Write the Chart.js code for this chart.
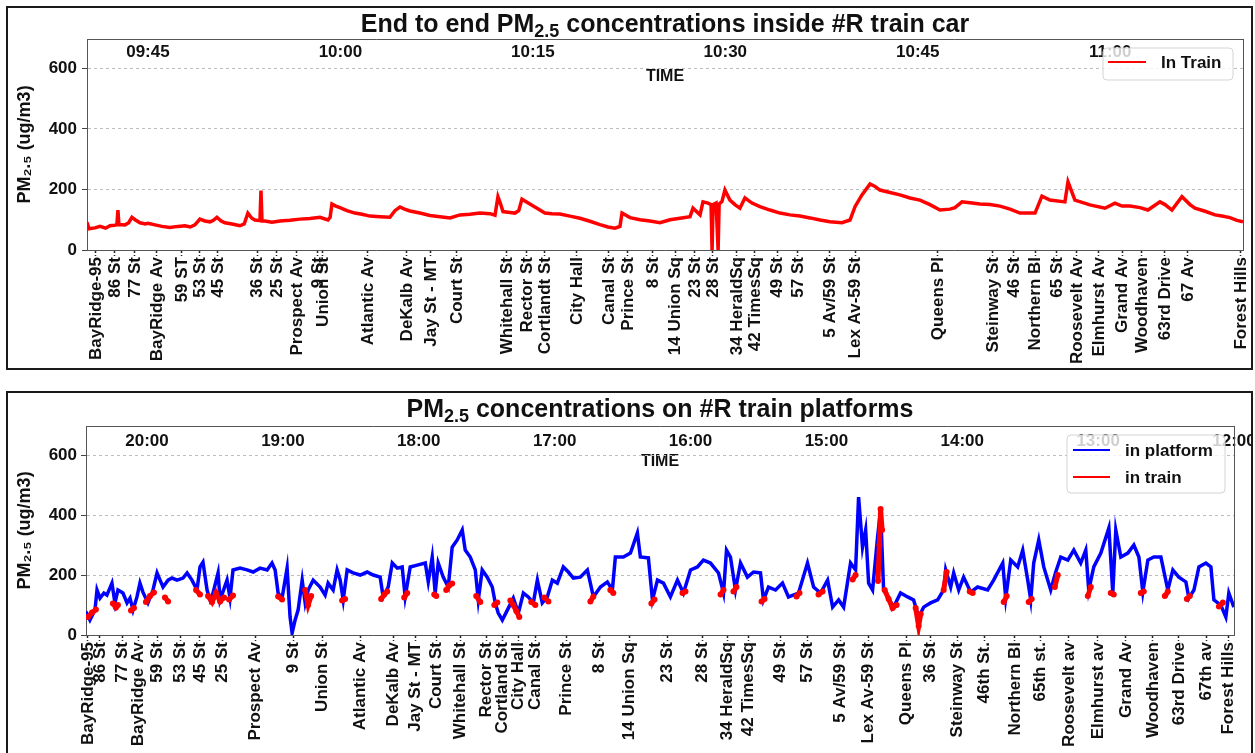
<!DOCTYPE html>
<html>
<head>
<meta charset="utf-8">
<script src="https://cdn.jsdelivr.net/npm/chart.js@4.4.1/dist/chart.umd.min.js"></script>
<style>
  body { margin: 0; background: #fff; font-family: 'Liberation Sans', Arial, sans-serif; }
  .panel { position: absolute; left: 6px; width: 1243px; border: 2px solid #1a1a1a; background: #fff; }
  #panelTop { top: 6px; height: 360px; }
  #panelBot { top: 391px; height: 366px; }
  canvas { display: block; }
  .title { position: absolute; font-weight: bold; font-size: 25px; line-height: 25px; text-align: center; color: #111; white-space: nowrap; }
  .title sub { font-size: 0.72em; vertical-align: -0.3em; line-height: 0; }
</style>
</head>
<body>
<div class="panel" id="panelTop"><canvas id="carChart" width="1243" height="360"></canvas></div>
<div class="panel" id="panelBot"><canvas id="platChart" width="1243" height="366"></canvas></div>
<div class="title" style="left:87px; width:1156px; top:11px;">End to end PM<sub>2.5</sub> concentrations inside #R train car</div>
<div class="title" style="left:86px; width:1148px; top:396px;">PM<sub>2.5</sub> concentrations on #R train platforms</div>

<script>
// ---------- Datos: viaje dentro del vagón (minutos desde las 9:00) ----------
const carStations = ['BayRidge-95', '86 St', '77 St', 'BayRidge Av', '59 ST', '53 St', '45 St', '36 St', '25 St',
  'Prospect Av', '9 St', 'Union St', 'Atlantic Av', 'DeKalb Av', 'Jay St - MT', 'Court St', 'Whitehall St',
  'Rector St', 'Cortlandt St', 'City Hall', 'Canal St', 'Prince St', '8 St', '14 Union Sq', '23 St', '28 St',
  '34 HeraldSq', '42 TimesSq', '49 St', '57 St', '5 Av/59 St', 'Lex Av-59 St', 'Queens Pl', 'Steinway St',
  '46 St', 'Northern Bl', '65 St', 'Roosevelt Av', 'Elmhurst Av', 'Grand Av', 'Woodhaven', '63rd Drive',
  '67 Av', 'Forest Hills'];
const carStationTimes = [40.95, 42.43, 43.99, 45.70, 47.65, 49.05, 50.46, 53.50, 55.05,
  56.61, 58.25, 58.64, 62.15, 65.19, 67.06, 69.08, 72.98,
  74.54, 75.94, 78.44, 80.93, 82.41, 84.36, 86.08, 87.63, 89.04,
  90.91, 92.31, 94.03, 95.66, 98.16, 100.11, 106.57, 110.86,
  112.50, 114.14, 115.85, 117.41, 119.12, 120.92, 122.47, 124.27,
  126.06, 130.19];
const carClockTicks = [45, 60, 75, 90, 105, 120];
const carClockLabels = ['09:45', '10:00', '10:15', '10:30', '10:45', '11:00'];

const carTime = [
  40.25, 40.4, 40.87, 41.26, 41.7, 42.04, 42.4, 42.58, 42.66, 42.74,
  43.21, 43.5, 43.75, 44.0, 44.38, 44.8, 45.0, 45.55, 46.09, 46.71,
  47.34, 47.88, 48.3, 48.66, 49.05, 49.44, 49.83, 50.1, 50.38, 50.7,
  51.0, 51.55, 52.17, 52.5, 52.79, 53.1, 53.34, 53.73, 53.81, 53.89,
  54.12, 54.66, 55.29, 56.07, 56.85, 57.63, 58.41, 59.03, 59.2, 59.34,
  59.6, 59.96, 60.51, 61.13, 61.68, 62.3, 63.08, 63.86, 64.25, 64.64,
  65.0, 65.42, 66.2, 66.98, 67.76, 68.54, 69.32, 70.1, 70.88, 71.66,
  72.05, 72.28, 72.5, 72.67, 73.22, 73.6, 73.9, 74.15, 74.77, 75.32,
  75.94, 76.49, 77.11, 77.89, 78.67, 79.45, 80.23, 80.86, 81.4, 81.79,
  81.95, 82.57, 83.35, 84.13, 84.91, 85.69, 86.47, 87.25, 87.48, 88.03,
  88.26, 88.65, 88.89, 88.97, 89.05, 89.28, 89.44, 89.52, 89.74, 89.97,
  90.36, 90.75, 91.14, 91.53, 92.08, 92.7, 93.48, 94.26, 95.04, 95.82,
  96.6, 97.38, 98.16, 99.09, 99.72, 100.11, 100.65, 101.28, 101.67, 102.05,
  102.83, 103.61, 104.39, 105.17, 105.95, 106.73, 107.51, 107.9, 108.45, 109.07,
  109.85, 110.63, 111.41, 112.19, 112.97, 114.14, 114.68, 115.3, 116.47, 116.71,
  117.25, 118.42, 119.59, 120.37, 120.92, 121.54, 122.32, 122.94, 123.88, 124.27,
  124.81, 125.59, 126.22, 126.61, 127.39, 128.17, 128.71, 129.33, 129.88, 130.35];
const carPM = [
  92, 70, 73, 78, 72, 80, 82, 84, 132, 84,
  83, 90, 108, 100, 90, 86, 88, 83, 78, 74,
  78, 80, 76, 83, 102, 96, 93, 98, 108, 96,
  90, 86, 80, 86, 122, 105, 99, 97, 196, 96,
  96, 92, 96, 98, 102, 104, 108, 99, 108, 152,
  146, 140, 130, 122, 118, 112, 110, 108, 130, 142,
  135, 129, 122, 114, 110, 106, 116, 118, 122, 120,
  115, 176, 150, 127, 124, 122, 130, 168, 152, 138,
  122, 120, 119, 112, 105, 95, 84, 76, 72, 78,
  122, 107, 100, 96, 90, 100, 105, 110, 138, 116,
  159, 155, 150, 0, 150, 155, 0, 152, 160, 198,
  165, 150, 138, 172, 155, 143, 132, 122, 116, 112,
  106, 99, 93, 90, 99, 143, 182, 218, 210, 198,
  190, 182, 172, 165, 150, 132, 135, 140, 159, 156,
  152, 150, 145, 135, 122, 122, 178, 165, 159, 225,
  165, 149, 138, 155, 145, 145, 140, 132, 159, 150,
  132, 176, 150, 138, 128, 116, 112, 107, 98, 93];

// ---------- Datos: andenes (horas del día, eje invertido) ----------
const platStations = ['BayRidge-95', '86 St', '77 St', 'BayRidge Av', '59 St', '53 St', '45 St', '25 St',
  'Prospect Av', '9 St', 'Union St', 'Atlantic Av', 'DeKalb Av', 'Jay St - MT', 'Court St', 'Whitehall St',
  'Rector St', 'Cortland St', 'City Hall', 'Canal St', 'Prince St', '8 St', '14 Union Sq', '23 St', '28 St',
  '34 HeraldSq', '42 TimesSq', '49 St', '57 St', '5 Av/59 St', 'Lex Av-59 St', 'Queens Pl', '36 St',
  'Steinway St', '46th St.', 'Northern Bl', '65th st.', 'Roosevelt av', 'Elmhurst av', 'Grand Av',
  'Woodhaven', '63rd Drive', '67th av', 'Forest Hills'];
const platStationTimes = [20.435, 20.346, 20.184, 20.066, 19.926, 19.757, 19.610, 19.448,
  19.204, 18.924, 18.711, 18.431, 18.188, 18.026, 17.871, 17.694,
  17.503, 17.385, 17.267, 17.142, 16.913, 16.670, 16.449, 16.169, 15.912,
  15.727, 15.573, 15.337, 15.138, 14.895, 14.689, 14.409, 14.232,
  14.033, 13.834, 13.613, 13.422, 13.215, 13.002, 12.796,
  12.597, 12.405, 12.206, 12.044];
const platClockTicks = [20, 19, 18, 17, 16, 15, 14, 13, 12];
const platClockLabels = ['20:00', '19:00', '18:00', '17:00', '16:00', '15:00', '14:00', '13:00', '12:00'];

const platTime = [
  20.45, 20.42, 20.383, 20.368, 20.346, 20.317, 20.295, 20.258, 20.236, 20.214,
  20.177, 20.147, 20.125, 20.103, 20.074, 20.052, 20.03, 19.993, 19.956, 19.926,
  19.904, 19.882, 19.845, 19.816, 19.779, 19.735, 19.705, 19.669, 19.632, 19.61,
  19.588, 19.558, 19.536, 19.514, 19.477, 19.462, 19.411, 19.389, 19.367, 19.315,
  19.264, 19.219, 19.168, 19.116, 19.08, 19.057, 19.035, 19.006, 18.969, 18.947,
  18.932, 18.91, 18.888, 18.858, 18.836, 18.814, 18.777, 18.726, 18.689, 18.667,
  18.63, 18.601, 18.578, 18.556, 18.527, 18.483, 18.431, 18.38, 18.335, 18.284,
  18.262, 18.225, 18.195, 18.158, 18.122, 18.1, 18.063, 18.011, 17.952, 17.93,
  17.901, 17.879, 17.857, 17.82, 17.783, 17.754, 17.717, 17.68, 17.658, 17.621,
  17.584, 17.562, 17.533, 17.496, 17.459, 17.437, 17.415, 17.385, 17.348, 17.304,
  17.267, 17.23, 17.194, 17.157, 17.127, 17.091, 17.054, 17.017, 16.98, 16.936,
  16.899, 16.862, 16.811, 16.759, 16.737, 16.715, 16.663, 16.612, 16.575, 16.553,
  16.494, 16.442, 16.391, 16.369, 16.31, 16.28, 16.243, 16.199, 16.148, 16.096,
  16.052, 16.0, 15.949, 15.905, 15.853, 15.794, 15.757, 15.735, 15.706, 15.669,
  15.632, 15.581, 15.536, 15.485, 15.463, 15.426, 15.374, 15.323, 15.279, 15.205,
  15.139, 15.094, 15.043, 14.991, 14.954, 14.91, 14.873, 14.822, 14.785, 14.763,
  14.734, 14.711, 14.689, 14.66, 14.623, 14.601, 14.579, 14.549, 14.505, 14.454,
  14.402, 14.358, 14.321, 14.284, 14.233, 14.181, 14.137, 14.122, 14.085, 14.063,
  14.026, 13.99, 13.938, 13.887, 13.813, 13.769, 13.702, 13.68, 13.643, 13.592,
  13.555, 13.518, 13.496, 13.474, 13.437, 13.4, 13.349, 13.312, 13.275, 13.223,
  13.179, 13.128, 13.091, 13.069, 13.032, 12.98, 12.921, 12.892, 12.87, 12.833,
  12.781, 12.737, 12.7, 12.671, 12.634, 12.59, 12.538, 12.487, 12.45, 12.406,
  12.354, 12.332, 12.295, 12.258, 12.207, 12.17, 12.148, 12.097, 12.06, 12.038, 12.001];
const platPM = [
  78, 50, 83, 150, 123, 140, 133, 173, 107, 150,
  140, 107, 123, 83, 127, 173, 143, 107, 150, 207,
  183, 160, 183, 190, 183, 190, 207, 183, 150, 227,
  243, 150, 117, 140, 207, 117, 183, 123, 217, 223,
  217, 210, 223, 217, 240, 217, 140, 123, 223, 60,
  7, 50, 83, 183, 107, 150, 183, 160, 133, 173,
  150, 217, 183, 117, 217, 207, 200, 210, 200, 193,
  127, 160, 240, 223, 227, 127, 227, 233, 240, 177,
  260, 140, 240, 193, 160, 293, 317, 350, 283, 260,
  217, 117, 217, 193, 160, 107, 73, 50, 83, 123,
  73, 140, 127, 107, 183, 107, 127, 183, 173, 227,
  210, 190, 193, 217, 173, 127, 160, 177, 150, 260,
  260, 273, 340, 260, 257, 117, 183, 173, 127, 183,
  140, 217, 227, 250, 240, 207, 140, 283, 260, 150,
  240, 193, 210, 207, 117, 160, 150, 173, 127, 140,
  240, 160, 140, 183, 93, 117, 93, 240, 217, 460,
  293, 350, 173, 150, 327, 417, 150, 127, 93, 140,
  127, 117, 60, 93, 107, 117, 150, 217, 160, 207,
  150, 193, 143, 160, 150, 183, 240, 123, 250, 227,
  283, 183, 117, 240, 317, 227, 150, 210, 260, 250,
  283, 240, 283, 150, 227, 273, 357, 140, 350, 260,
  273, 300, 260, 143, 250, 260, 260, 150, 217, 193,
  177, 123, 150, 227, 240, 227, 117, 100, 60, 140, 93];

// paradas: lecturas "in train" agrupadas por tramo
const trainTime = [
  [20.435, 20.405, 20.376], [20.251, 20.229, 20.214], [20.118, 20.096], [20.008, 19.978, 19.949],
  [19.868, 19.845], [19.639, 19.61], [19.551, 19.521, 19.492, 19.462, 19.433], [19.396, 19.367],
  [19.035, 19.006], [18.836, 18.814, 18.792], [18.564, 18.542], [18.277, 18.254, 18.232],
  [18.107, 18.085], [17.886, 17.871], [17.798, 17.776, 17.754], [17.577, 17.547],
  [17.444, 17.422], [17.326, 17.304, 17.282, 17.26], [17.172, 17.142], [17.076, 17.046],
  [16.737, 16.715], [16.59, 16.568], [16.288, 16.265], [16.059, 16.037],
  [15.779, 15.757], [15.684, 15.662], [15.477, 15.455], [15.22, 15.198],
  [15.058, 15.028], [14.807, 14.785], [14.62, 14.61, 14.601, 14.59], [14.571, 14.542, 14.513, 14.483],
  [14.343, 14.321, 14.306], [14.137, 14.115], [13.945, 13.923], [13.695, 13.673],
  [13.511, 13.489], [13.319, 13.297], [13.076, 13.054], [12.907, 12.885],
  [12.686, 12.664], [12.509, 12.487], [12.347, 12.325], [12.111, 12.082]];
const trainPM = [
  [60, 75, 85], [105, 92, 100], [82, 90], [110, 130, 142],
  [125, 112], [150, 135], [130, 110, 140, 112, 125], [118, 132],
  [128, 118], [150, 100, 130], [115, 120], [120, 135, 145],
  [125, 140], [135, 130], [150, 165, 172], [130, 110],
  [100, 108], [115, 100, 80, 60], [110, 100], [125, 112],
  [112, 128], [150, 140], [105, 118], [140, 145],
  [135, 150], [145, 160], [112, 120], [128, 140],
  [135, 145], [185, 200], [180, 300, 420, 350], [150, 120, 90, 100],
  [90, 30, 70], [150, 210], [145, 140], [110, 130],
  [110, 120], [160, 200], [130, 160], [140, 135],
  [140, 145], [130, 145], [120, 130], [95, 108]];

const yTicks = [0, 200, 400, 600];
const yMax = 697;

// ---------- Configuración común ----------
const FONT = "'Liberation Sans', Arial, sans-serif";
Chart.defaults.font.family = FONT;
Chart.defaults.color = '#111';
const AXIS = '#555';

// leyenda con marco, dentro del área del gráfico
const boxLegend = {
  id: 'boxLegend',
  afterDraw(chart, args, o) {
    const ctx = chart.ctx;
    ctx.save();
    ctx.beginPath();
    if (ctx.roundRect) ctx.roundRect(o.left, o.top, o.width, o.height, 4);
    else ctx.rect(o.left, o.top, o.width, o.height);
    ctx.fillStyle = 'rgba(255,255,255,0.8)';
    ctx.fill();
    ctx.strokeStyle = '#d4d4d4';
    ctx.lineWidth = 1;
    ctx.stroke();
    ctx.font = 'bold 17px ' + FONT;
    ctx.textBaseline = 'middle';
    chart.data.datasets.forEach((ds, i) => {
      const y = o.rows[i];
      ctx.strokeStyle = ds.borderColor;
      ctx.lineWidth = 2;
      ctx.beginPath();
      ctx.moveTo(o.lineX, y);
      ctx.lineTo(o.lineX + o.lineLen, y);
      ctx.stroke();
      ctx.fillStyle = '#111';
      ctx.fillText(ds.label, o.textX, y + 1);
    });
    ctx.restore();
  }
};

function buildScales(s) {
  const bold17 = { size: 17, weight: 'bold' };
  return {
    x: {
      type: 'linear', min: s.min, max: s.max, reverse: s.reverse,
      afterBuildTicks: sc => { sc.ticks = s.stationTimes.map(v => ({ value: v })); },
      afterFit: sc => { sc.height = s.xHeight; sc.paddingLeft = 0; sc.paddingRight = 0; },
      grid: { drawOnChartArea: false, tickLength: 6, tickColor: '#222', tickWidth: 1.5, tickBorderDash: [2, 2] },
      border: { color: AXIS },
      ticks: {
        autoSkip: false, minRotation: 90, maxRotation: 90, padding: 1, font: bold17, color: '#111',
        callback: v => s.stations[s.stationTimes.indexOf(v)]
      }
    },
    clock: {
      type: 'linear', axis: 'x', position: 'top', min: s.min, max: s.max, reverse: s.reverse,
      afterBuildTicks: sc => { sc.ticks = s.clockTicks.map(v => ({ value: v })); },
      afterFit: sc => {
        sc.height = s.plotTop; sc.paddingLeft = 0; sc.paddingRight = 0;
        // las etiquetas van dentro del área del gráfico: sin recorte
        sc._computeLabelArea = () => undefined;
      },
      grid: { display: false, drawTicks: false },
      border: { color: AXIS },
      ticks: {
        autoSkip: false, maxRotation: 0, padding: s.clockPad, font: bold17, color: '#111',
        callback: v => s.clockLabels[s.clockTicks.indexOf(v)]
      },
      title: { display: true, text: 'TIME', color: '#111', font: { size: 16, weight: 'bold' }, padding: { top: 59, bottom: 0 } }
    },
    y: {
      min: 0, max: yMax,
      afterBuildTicks: sc => { sc.ticks = yTicks.map(v => ({ value: v })); },
      afterFit: sc => { sc.width = s.yWidth; sc.paddingTop = 0; sc.paddingBottom = 0; },
      grid: {
        color: c => (c.tick && c.tick.value === 0) ? 'rgba(0,0,0,0)' : '#bdbdbd',
        tickColor: '#444', tickLength: 5
      },
      border: { color: AXIS, dash: [3, 3] },
      ticks: { padding: s.yPad, font: bold17, color: '#111' },
      title: { display: true, text: 'PM₂.₅ (ug/m3)', color: '#111', font: { size: 18, weight: 'bold' }, padding: { top: 6, bottom: 0 } }
    },
    yRight: {
      axis: 'y', position: 'right', min: 0, max: yMax,
      afterFit: sc => { sc.width = 0; },
      grid: { display: false, drawTicks: false },
      ticks: { display: false },
      border: { color: AXIS }
    }
  };
}

function baseOptions(s, legendOpts) {
  return {
    responsive: false,
    animation: false,
    events: [],
    layout: { padding: { left: 0, top: 0, right: s.padRight, bottom: 0 } },
    plugins: { legend: { display: false }, tooltip: { enabled: false }, boxLegend: legendOpts },
    scales: buildScales(s)
  };
}

// ---------- Gráfico 1: dentro del vagón ----------
new Chart(document.getElementById('carChart'), {
  type: 'line',
  data: {
    datasets: [{
      label: 'In Train',
      data: carTime.map((t, i) => ({ x: t, y: carPM[i] })),
      borderColor: '#ff0000',
      borderWidth: 3.5,
      pointRadius: 0,
      tension: 0
    }]
  },
  options: baseOptions({
    min: 40.25, max: 130.35, reverse: false,
    stations: carStations, stationTimes: carStationTimes,
    clockTicks: carClockTicks, clockLabels: carClockLabels,
    plotTop: 31, xHeight: 118, clockPad: -24, yWidth: 79, yPad: 5, padRight: 8
  }, { left: 1095, top: 40, width: 130, height: 32, lineX: 1100, lineLen: 38, textX: 1153, rows: [54] }),
  plugins: [boxLegend]
});

// ---------- Gráfico 2: andenes ----------
const trainData = [];
trainTime.forEach((grp, g) => {
  grp.forEach((t, i) => trainData.push({ x: t, y: trainPM[g][i] }));
  trainData.push({ x: grp[grp.length - 1], y: null }); // corte entre paradas
});

new Chart(document.getElementById('platChart'), {
  type: 'line',
  data: {
    datasets: [{
      label: 'in platform',
      data: platTime.map((t, i) => ({ x: t, y: platPM[i] })),
      borderColor: '#0000ff',
      borderWidth: 3.5,
      pointRadius: 0,
      tension: 0,
      order: 1
    }, {
      label: 'in train',
      data: trainData,
      borderColor: '#ff0000',
      backgroundColor: '#ff0000',
      borderWidth: 5,
      pointRadius: 3,
      pointBorderWidth: 0,
      tension: 0,
      order: 0
    }]
  },
  options: baseOptions({
    min: 12.0, max: 20.449, reverse: true,
    stations: platStations, stationTimes: platStationTimes,
    clockTicks: platClockTicks, clockLabels: platClockLabels,
    plotTop: 33, xHeight: 124, clockPad: -26, yWidth: 78, yPad: 4, padRight: 17
  }, { left: 1059, top: 42, width: 158, height: 58, lineX: 1065, lineLen: 37, textX: 1117, rows: [57, 84] }),
  plugins: [boxLegend]
});
</script>
</body>
</html>
